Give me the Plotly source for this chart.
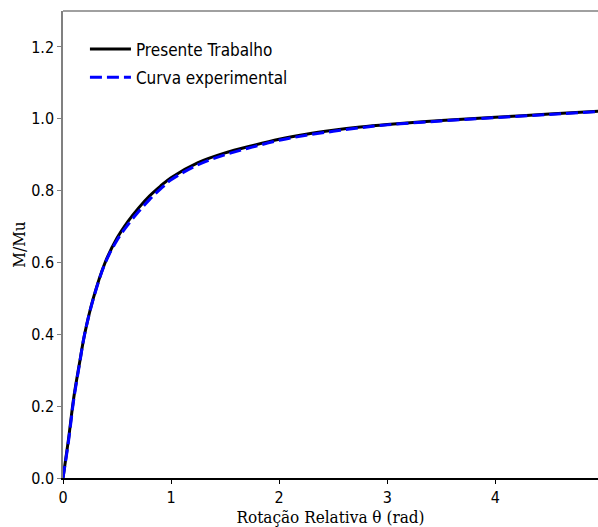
import plotly.graph_objects as go

x_sim = [0, 0.05, 0.1, 0.15, 0.2, 0.28, 0.39, 0.5, 0.6, 0.7, 0.8, 0.9, 1.0, 1.25, 1.5,
         1.75, 2.0, 2.25, 2.5, 2.75, 3.0, 3.5, 4.0, 4.5, 5.0]
y_sim = [0, 0.106, 0.225, 0.315, 0.40, 0.50, 0.60, 0.668, 0.714, 0.752, 0.785, 0.812, 0.836,
         0.878, 0.905, 0.925, 0.943, 0.957, 0.968, 0.977, 0.984, 0.995, 1.004, 1.013, 1.022]

x_exp = [0, 0.05, 0.1, 0.15, 0.2, 0.28, 0.39, 0.5, 0.6, 0.7, 0.8, 0.9, 1.0, 1.25, 1.5,
         1.75, 2.0, 2.25, 2.5, 2.75, 3.0, 3.5, 4.0, 4.5, 5.0]
y_exp = [0, 0.10, 0.22, 0.312, 0.40, 0.498, 0.598, 0.662, 0.705, 0.742, 0.775, 0.804, 0.830,
         0.872, 0.900, 0.921, 0.940, 0.954, 0.965, 0.975, 0.983, 0.994, 1.003, 1.012, 1.021]

x_ticks = [0, 1, 2, 3, 4]
y_ticks = [0.0, 0.2, 0.4, 0.6, 0.8, 1.0, 1.2]

tick_font = dict(family="DejaVu Sans Condensed, DejaVu Sans", size=16, color="black")
title_font = dict(family="DejaVu Serif Condensed, DejaVu Serif", size=17, color="black")

fig = go.Figure()
fig.add_trace(go.Scatter(x=x_sim, y=y_sim, mode="lines", name="Presente Trabalho",
                         legendgroup="sim",
                         line=dict(color="black", width=3, shape="spline")))
fig.add_trace(go.Scatter(x=x_exp, y=y_exp, mode="lines", name="Curva experimental",
                         legendgroup="exp",
                         line=dict(color="blue", width=3, dash="12px,5px", shape="spline")))

fig.update_layout(
    width=598, height=527,
    margin=dict(l=63, r=0, t=11, b=49),
    paper_bgcolor="white", plot_bgcolor="white",
    showlegend=True,
    legend=dict(x=0.041, y=0.956, xanchor="left", yanchor="top", itemwidth=41,
                font=dict(family="DejaVu Sans Condensed, DejaVu Sans", size=17, color="black"),
                bgcolor="rgba(255,255,255,0)", tracegroupgap=3),
    xaxis=dict(range=[0, 4.95], tickvals=x_ticks, ticktext=[str(v) for v in x_ticks],
               showgrid=False, zeroline=False, showline=True, linecolor="black", linewidth=1.5,
               ticks="outside", ticklen=4, tickcolor="black", tickfont=tick_font,
               title=dict(text="Rotação Relativa θ (rad)", font=title_font, standoff=5)),
    yaxis=dict(range=[0, 1.3], tickvals=y_ticks, ticktext=[f"{v:.1f}" for v in y_ticks],
               showgrid=False, zeroline=False, showline=True, linecolor="#808080", linewidth=1.5,
               ticks="outside", ticklen=4, tickcolor="#808080", tickfont=tick_font,
               title=dict(text="M/Mu", font=title_font, standoff=1)),
    shapes=[dict(type="line", xref="paper", yref="paper", x0=0, x1=1, y0=1, y1=1,
                 line=dict(color="#808080", width=1.5))],
)

fig.write_html("out.html")
